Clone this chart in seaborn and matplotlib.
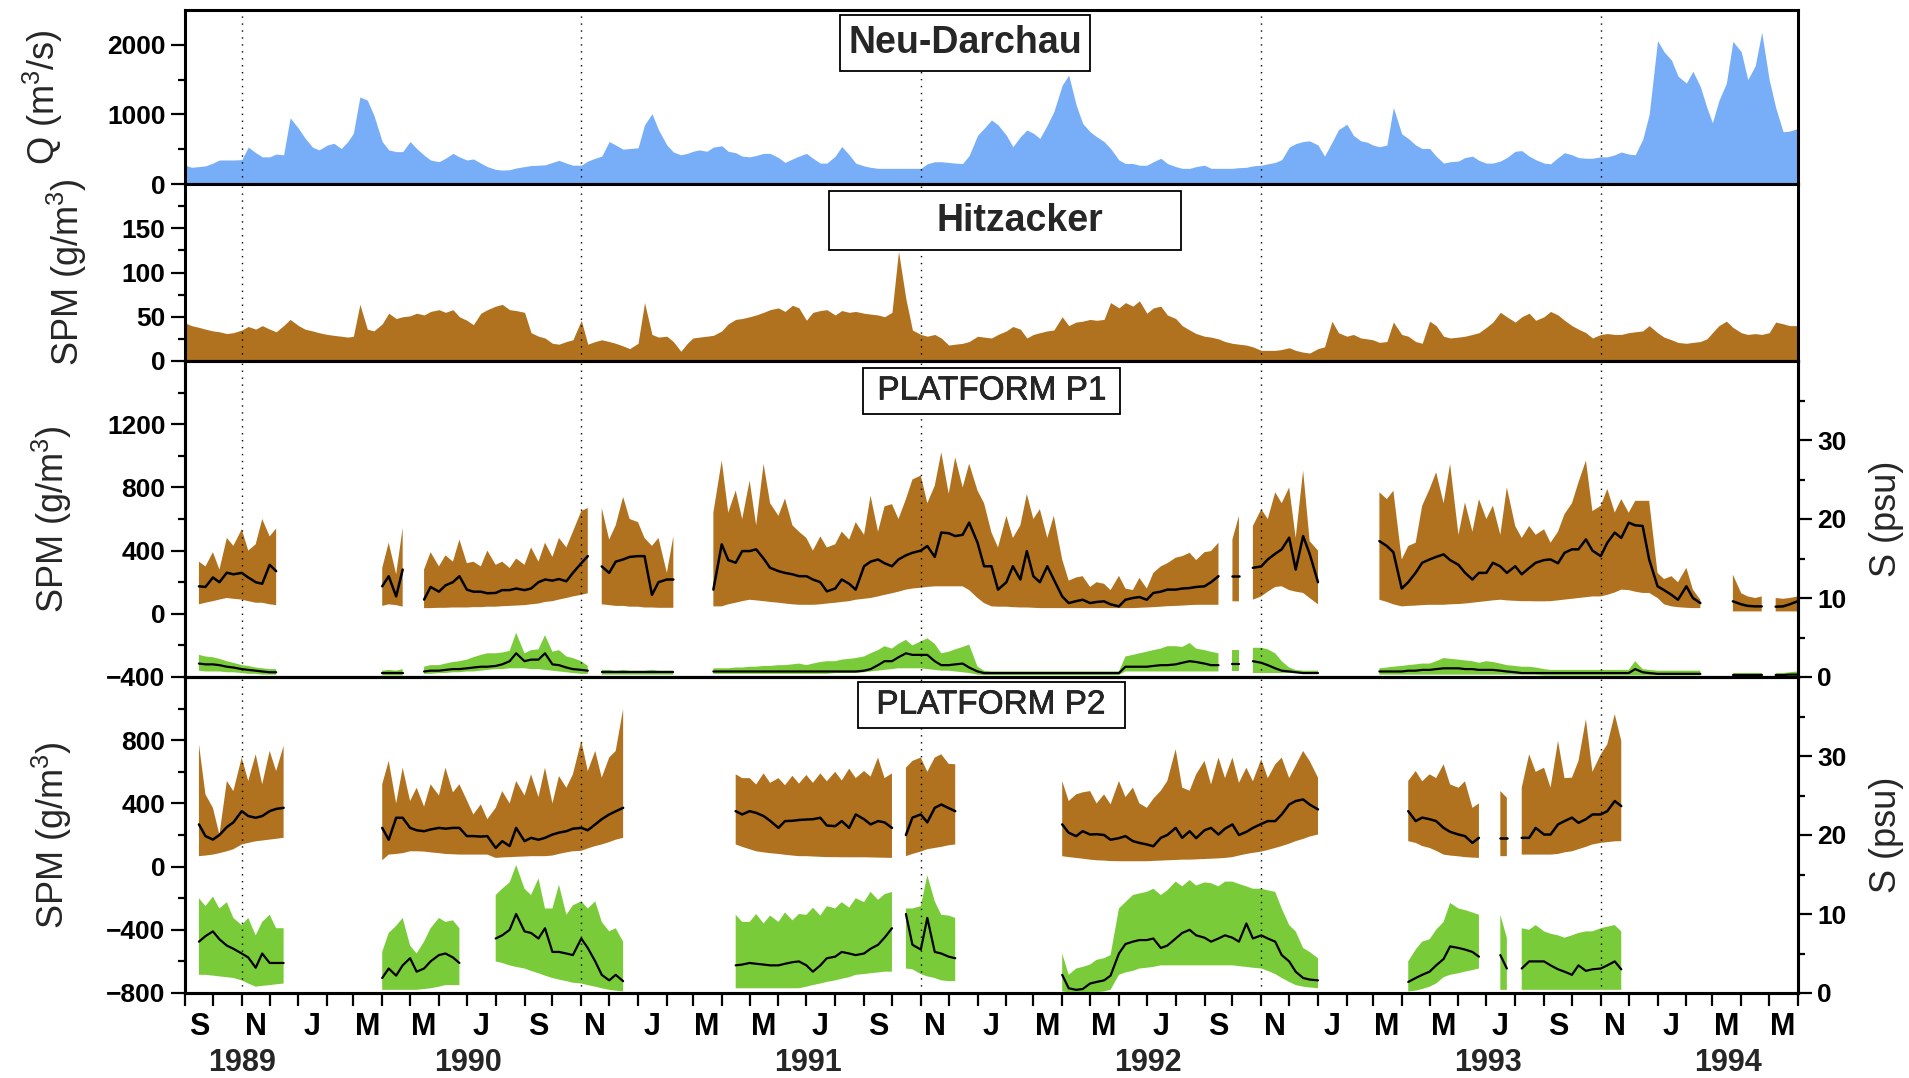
import numpy as np
import pandas as pd
import matplotlib
matplotlib.use("Agg")
import matplotlib.pyplot as plt
import matplotlib.dates as mdates
import matplotlib.patheffects as pe
from matplotlib.patches import Rectangle
from matplotlib.ticker import FixedLocator, NullFormatter, FuncFormatter
import seaborn as sns

N = np.nan

# Four samples per month (days 1, 8, 16, 23) from Sep 1989 to May 1994, plus 1 Jun 1994
SAMPLE_DAYS = [1, 8, 16, 23]
FIRST_MONTH = "1989-09"
LAST_MONTH = "1994-05"
FINAL_DAY = "1994-06-01"
YEARS = [1989, 1990, 1991, 1992, 1993, 1994]
HYDRO_YEAR_STARTS = ["1989-11-01", "1990-11-01", "1991-11-01", "1992-11-01", "1993-11-01"]

TITLES = ["Neu-Darchau", "Hitzacker", "PLATFORM P1", "PLATFORM P2"]
YLABELS = ["Q (m$^3$/s)", "SPM (g/m$^3$)", "SPM (g/m$^3$)", "SPM (g/m$^3$)"]
SAL_LABEL = "S (psu)"

# River discharge at Neu-Darchau (m3/s)
Q_NEU_DARCHAU = [
    [270, 240, 250, 260], [300, 345, 345, 345], [350, 530, 450, 390],
    [390, 430, 420, 950], [800, 660, 530, 490], [560, 585, 510, 610],
    [730, 1250, 1205, 990], [610, 490, 465, 465], [610, 510, 415, 345],
    [320, 370, 440, 390], [345, 360, 300, 250], [210, 200, 205, 230],
    [250, 265, 270, 275], [310, 340, 300, 270], [270, 330, 370, 400],
    [610, 560, 500, 510], [520, 850, 1010, 780], [560, 460, 420, 440],
    [470, 490, 470, 530], [550, 470, 450, 400], [390, 410, 440, 440],
    [380, 310, 360, 400], [440, 370, 300, 300], [400, 540, 420, 300],
    [260, 240, 225, 225], [225, 225, 225, 225], [225, 290, 320, 320],
    [310, 300, 295, 410], [700, 800, 920, 850], [700, 535, 680, 775],
    [730, 655, 850, 1040], [1420, 1565, 1135, 870], [750, 680, 610, 510],
    [345, 295, 295, 270], [270, 320, 370, 295], [250, 225, 225, 250],
    [270, 225, 225, 225], [225, 235, 240, 260], [270, 290, 310, 350],
    [530, 580, 610, 620], [560, 400, 600, 780], [860, 700, 620, 600],
    [560, 535, 560, 1100], [720, 655, 560, 510], [510, 400, 300, 320],
    [330, 380, 400, 340], [300, 300, 330, 380], [470, 480, 400, 350],
    [300, 290, 380, 450], [420, 380, 370, 370], [390, 390, 420, 460],
    [430, 420, 640, 1000], [2060, 1900, 1780, 1550], [1450, 1620, 1400, 1100],
    [880, 1200, 1450, 2050], [1900, 1500, 1700, 2180], [1500, 1100, 750, 760],
    [800],
]

# Suspended matter at Hitzacker (g/m3)
SPM_HITZACKER = [
    [43, 40, 38, 36], [34, 33, 31, 32], [35, 39, 36, 40],
    [36, 33, 40, 47], [40, 36, 34, 32], [30, 29, 28, 27],
    [28, 64, 36, 34], [42, 54, 48, 50], [51, 54, 52, 56],
    [58, 55, 58, 50], [46, 41, 54, 58], [62, 64, 58, 57],
    [55, 32, 28, 26], [20, 19, 22, 24], [46, 19, 22, 24],
    [22, 20, 17, 14], [20, 66, 30, 27], [28, 22, 11, 20],
    [26, 27, 28, 29], [34, 42, 47, 48], [50, 52, 55, 58],
    [60, 56, 63, 60], [46, 55, 57, 58], [52, 57, 55, 56],
    [54, 53, 52, 50], [55, 124, 70, 35], [30, 28, 30, 26],
    [18, 19, 20, 22], [28, 27, 26, 30], [34, 39, 36, 26],
    [30, 32, 34, 35], [50, 40, 44, 45], [47, 46, 47, 66],
    [60, 66, 62, 68], [54, 60, 62, 52], [48, 40, 35, 31],
    [28, 27, 25, 22], [20, 19, 18, 16], [12, 12, 12, 13],
    [15, 12, 10, 9], [14, 16, 45, 32], [28, 30, 26, 25],
    [24, 21, 22, 44], [30, 28, 22, 20], [45, 40, 28, 26],
    [27, 28, 30, 32], [38, 44, 55, 50], [44, 50, 54, 46],
    [50, 56, 52, 46], [40, 36, 32, 26], [30, 31, 30, 30],
    [32, 33, 34, 40], [32, 27, 24, 21], [20, 21, 22, 25],
    [32, 40, 45, 38], [32, 30, 31, 30], [32, 44, 42, 40],
    [40],
]

# Platform P1: SPM tidal max / min / mean (g/m3)
P1_SPM_MAX = [
    [N, N, 330, 300], [390, 280, 480, 430], [535, 400, 440, 600],
    [490, 540, N, N], [N, N, N, N], [N, N, N, N],
    [N, N, N, N], [290, 450, 250, 545], [N, N, 280, 390],
    [300, 370, 330, 470], [320, 330, 300, 400], [310, 330, 290, 350],
    [310, 420, 330, 450], [360, 480, 420, 520], [650, 670, N, 670],
    [470, 560, 740, 600], [580, 480, 430, 480], [260, 490, N, N],
    [N, N, N, 640], [970, 640, 780, 600], [843, 560, 949, 700],
    [620, 730, 560, 520], [480, 400, 490, 420], [440, 520, 470, 580],
    [500, 747, 520, 680], [694, 600, 726, 850], [875, 700, 811, 1023],
    [760, 990, 800, 950], [780, 700, 514, 420], [620, 480, 560, 758],
    [600, 662, 480, 620], [344, 210, 230, 238], [170, 200, 190, 150],
    [240, 160, 150, 227], [160, 259, 300, 320], [355, 365, 386, 340],
    [390, 397, 450, N], [471, 620, N, 556], [662, 600, 769, 700],
    [800, 480, 907, 460], [400, N, N, N], [N, N, N, N],
    [N, 769, 726, 779], [344, 429, 450, 684], [790, 896, 700, 949],
    [500, 705, 520, 726], [600, 684, 500, 800], [556, 480, 556, 500],
    [535, 450, 520, 631], [700, 832, 970, 650], [684, 790, 641, 726],
    [640, 715, 715, 715], [259, 220, 238, 200], [291, 153, 89, N],
    [N, N, N, 248], [130, 110, 100, 110], [N, 100, 95, 100],
    [110],
]
P1_SPM_MIN = [
    [N, N, 60, 70], [80, 90, 100, 95], [90, 80, 70, 70],
    [60, 55, N, N], [N, N, N, N], [N, N, N, N],
    [N, N, N, N], [50, 60, 55, 45], [N, N, 36, 36],
    [38, 38, 40, 40], [40, 42, 42, 45], [45, 48, 50, 52],
    [55, 60, 65, 75], [80, 90, 100, 110], [120, 130, N, 60],
    [55, 50, 50, 45], [45, 40, 40, 38], [38, 38, N, N],
    [N, N, N, 47], [47, 60, 70, 80], [89, 85, 80, 75],
    [70, 65, 60, 57], [57, 57, 60, 65], [70, 75, 80, 89],
    [95, 100, 110, 120], [130, 140, 153, 160], [165, 170, 174, 174],
    [174, 174, 174, 150], [100, 68, 47, 45], [45, 42, 40, 40],
    [38, 36, 36, 36], [36, 36, 36, 36], [36, 36, 36, 36],
    [36, 36, 36, 38], [40, 42, 45, 48], [50, 52, 55, 57],
    [57, 57, 57, N], [79, 79, N, 89], [110, 140, 170, 174],
    [150, 140, 132, 100], [60, N, N, N], [N, N, N, N],
    [N, 89, 75, 60], [47, 50, 52, 55], [57, 57, 57, 60],
    [62, 65, 70, 75], [80, 85, 89, 85], [82, 80, 80, 79],
    [79, 80, 85, 90], [95, 100, 105, 110], [110, 120, 135, 153],
    [150, 140, 132, 132], [100, 60, 47, 42], [38, 36, 36, N],
    [N, N, N, 15], [15, 15, 15, 15], [N, 15, 15, 15],
    [15],
]
P1_SPM_MEAN = [
    [N, N, 174, 170], [230, 200, 260, 250], [259, 230, 200, 190],
    [310, 270, N, N], [N, N, N, N], [N, N, N, N],
    [N, N, N, N], [174, 238, 110, 280], [N, N, 90, 170],
    [140, 180, 200, 238], [153, 140, 140, 130], [132, 150, 150, 160],
    [150, 160, 200, 217], [210, 220, 206, 259], [320, 365, N, 300],
    [259, 330, 344, 360], [365, 365, 120, 200], [217, 217, N, N],
    [N, N, N, 153], [440, 340, 323, 397], [397, 408, 350, 291],
    [270, 259, 250, 238], [238, 217, 200, 142], [160, 217, 190, 153],
    [301, 330, 344, 320], [301, 344, 370, 386], [400, 429, 360, 514],
    [510, 492, 500, 577], [450, 301, 301, 153], [200, 301, 217, 397],
    [238, 200, 301, 217], [110, 68, 80, 89], [68, 75, 79, 60],
    [47, 89, 100, 106], [89, 132, 140, 153], [153, 160, 163, 170],
    [174, 200, 238, N], [238, 238, N, 291], [300, 344, 380, 408],
    [482, 280, 492, 380], [200, N, N, N], [N, N, N, N],
    [N, 460, 429, 390], [160, 200, 260, 323], [344, 360, 376, 340],
    [310, 260, 217, 259], [259, 323, 300, 259], [301, 250, 290, 323],
    [340, 344, 320, 386], [408, 408, 471, 400], [365, 450, 514, 480],
    [577, 560, 556, 344], [174, 150, 120, 89], [174, 100, 68, N],
    [N, N, N, 79], [60, 50, 47, 47], [N, 45, 47, 60],
    [80],
]

# Platform P1: salinity tidal max / min / mean (psu)
P1_SAL_MAX = [
    [N, N, 2.8, 2.6], [2.5, 2.3, 2.0, 1.8], [1.5, 1.4, 1.2, 1.1],
    [1.0, 1.0, N, N], [N, N, N, N], [N, N, N, N],
    [N, N, N, N], [0.8, 0.9, 0.8, 1.0], [N, N, 1.3, 1.5],
    [1.5, 1.7, 1.9, 2.0], [2.2, 2.5, 2.8, 3.0], [3.0, 3.1, 3.3, 5.6],
    [3.0, 3.4, 3.5, 5.3], [3.2, 3.4, 2.6, 2.4], [2.0, 1.4, N, 0.9],
    [0.9, 0.8, 0.9, 0.8], [0.8, 0.8, 0.9, 0.8], [0.8, 0.8, N, N],
    [N, N, N, 1.1], [1.1, 1.1, 1.2, 1.2], [1.3, 1.3, 1.4, 1.4],
    [1.5, 1.5, 1.6, 1.7], [1.5, 1.7, 1.9, 2.0], [2.0, 2.2, 2.3, 2.4],
    [2.6, 3.0, 3.4, 3.9], [3.6, 4.2, 4.7, 4.0], [4.5, 4.9, 4.2, 3.0],
    [3.2, 3.5, 3.8, 4.1], [1.3, 0.8, 0.7, 0.7], [0.7, 0.7, 0.7, 0.7],
    [0.7, 0.7, 0.7, 0.7], [0.7, 0.7, 0.7, 0.7], [0.7, 0.7, 0.7, 0.7],
    [0.7, 2.6, 2.8, 3.0], [3.2, 3.4, 3.6, 3.9], [3.9, 3.8, 4.3, 3.6],
    [3.4, 3.2, 3.0, N], [3.4, 3.4, N, 3.7], [3.7, 3.5, 3.0, 2.0],
    [1.2, 0.9, 0.8, 0.8], [0.8, N, N, N], [N, N, N, N],
    [N, 1.1, 1.2, 1.3], [1.4, 1.5, 1.6, 1.7], [1.7, 2.0, 2.4, 2.3],
    [2.2, 2.1, 2.0, 1.8], [2.0, 1.9, 1.7, 1.5], [1.4, 1.3, 1.3, 1.2],
    [1.0, 0.9, 0.9, 0.9], [0.9, 0.9, 0.9, 0.9], [0.9, 0.9, 0.9, 0.9],
    [0.9, 2.0, 1.0, 0.9], [0.8, 0.8, 0.8, 0.8], [0.8, 0.8, 0.8, N],
    [N, N, N, 0.5], [0.5, 0.5, 0.5, 0.5], [N, 0.5, 0.5, 0.6],
    [0.7],
]
P1_SAL_MIN = [
    [N, N, 0.8, 0.7], [0.7, 0.7, 0.6, 0.6], [0.5, 0.4, 0.4, 0.3],
    [0.3, 0.3, N, N], [N, N, N, N], [N, N, N, N],
    [N, N, N, N], [0.2, 0.2, 0.2, 0.2], [N, N, 0.4, 0.4],
    [0.5, 0.5, 0.6, 0.6], [0.7, 0.7, 0.8, 0.9], [1.0, 1.0, 1.1, 1.1],
    [1.1, 1.0, 1.0, 0.9], [0.8, 0.7, 0.6, 0.5], [0.4, 0.4, N, 0.3],
    [0.3, 0.3, 0.3, 0.3], [0.3, 0.3, 0.3, 0.3], [0.3, 0.3, N, N],
    [N, N, N, 0.4], [0.4, 0.4, 0.4, 0.4], [0.4, 0.4, 0.4, 0.4],
    [0.4, 0.4, 0.4, 0.4], [0.4, 0.4, 0.4, 0.4], [0.5, 0.5, 0.5, 0.5],
    [0.6, 0.7, 0.8, 0.9], [1.0, 1.1, 1.1, 1.1], [1.1, 1.0, 0.9, 0.8],
    [0.8, 0.7, 0.6, 0.5], [0.3, 0.25, 0.25, 0.25], [0.25, 0.25, 0.25, 0.25],
    [0.25, 0.25, 0.25, 0.25], [0.25, 0.25, 0.25, 0.25], [0.25, 0.25, 0.25, 0.25],
    [0.25, 0.7, 0.7, 0.7], [0.7, 0.7, 0.7, 0.7], [0.7, 0.7, 0.7, 0.7],
    [0.7, 0.7, 0.7, N], [0.7, 0.7, N, 0.5], [0.5, 0.5, 0.5, 0.5],
    [0.5, 0.5, 0.5, 0.5], [0.5, N, N, N], [N, N, N, N],
    [N, 0.3, 0.3, 0.3], [0.3, 0.3, 0.3, 0.3], [0.3, 0.3, 0.3, 0.3],
    [0.3, 0.3, 0.3, 0.3], [0.3, 0.3, 0.3, 0.3], [0.3, 0.3, 0.3, 0.3],
    [0.2, 0.2, 0.2, 0.2], [0.2, 0.2, 0.2, 0.2], [0.2, 0.2, 0.2, 0.2],
    [0.2, 0.2, 0.2, 0.2], [0.2, 0.2, 0.2, 0.2], [0.2, 0.2, 0.2, N],
    [N, N, N, 0.1], [0.1, 0.1, 0.1, 0.1], [N, 0.1, 0.1, 0.1],
    [0.1],
]
P1_SAL_MEAN = [
    [N, N, 1.7, 1.6], [1.6, 1.5, 1.3, 1.2], [1.0, 0.9, 0.8, 0.7],
    [0.6, 0.6, N, N], [N, N, N, N], [N, N, N, N],
    [N, N, N, N], [0.5, 0.5, 0.5, 0.5], [N, N, 0.7, 0.8],
    [0.8, 0.9, 1.0, 1.0], [1.1, 1.2, 1.3, 1.3], [1.4, 1.6, 2.0, 3.0],
    [2.0, 2.2, 2.2, 3.0], [1.6, 1.5, 1.2, 1.0], [0.9, 0.8, N, 0.6],
    [0.6, 0.6, 0.6, 0.6], [0.6, 0.6, 0.6, 0.6], [0.6, 0.6, N, N],
    [N, N, N, 0.7], [0.7, 0.7, 0.7, 0.7], [0.7, 0.7, 0.7, 0.7],
    [0.7, 0.7, 0.7, 0.7], [0.7, 0.7, 0.7, 0.7], [0.7, 0.7, 0.7, 0.7],
    [0.8, 1.0, 1.5, 2.0], [2.0, 2.5, 3.0, 2.8], [2.8, 2.8, 2.0, 1.5],
    [1.5, 1.6, 1.7, 1.2], [0.7, 0.5, 0.5, 0.5], [0.5, 0.5, 0.5, 0.5],
    [0.5, 0.5, 0.5, 0.5], [0.5, 0.5, 0.5, 0.5], [0.5, 0.5, 0.5, 0.5],
    [0.5, 1.3, 1.3, 1.3], [1.3, 1.4, 1.5, 1.5], [1.6, 1.8, 2.0, 1.9],
    [1.7, 1.5, 1.5, N], [1.7, 1.7, N, 2.0], [1.8, 1.5, 1.1, 0.8],
    [0.7, 0.6, 0.5, 0.5], [0.5, N, N, N], [N, N, N, N],
    [N, 0.7, 0.7, 0.7], [0.7, 0.8, 0.8, 0.9], [0.9, 1.0, 1.1, 1.1],
    [1.1, 1.0, 1.0, 0.9], [0.9, 0.9, 0.8, 0.7], [0.6, 0.5, 0.5, 0.5],
    [0.5, 0.5, 0.5, 0.5], [0.5, 0.5, 0.5, 0.5], [0.5, 0.5, 0.5, 0.5],
    [0.5, 1.0, 0.6, 0.5], [0.4, 0.4, 0.4, 0.4], [0.4, 0.4, 0.4, N],
    [N, N, N, 0.25], [0.25, 0.25, 0.25, 0.25], [N, 0.25, 0.25, 0.3],
    [0.3],
]

# Platform P2: SPM tidal max / min / mean (g/m3)
P2_SPM_MAX = [
    [N, N, 774, 457], [372, 203, 542, 478], [690, 542, 711, 521],
    [732, 605, 764, N], [N, N, N, N], [N, N, N, N],
    [N, N, N, N], [521, 669, 400, 626], [415, 499, 380, 521],
    [450, 626, 470, 521], [420, 330, 394, 300], [372, 478, 400, 542],
    [450, 584, 440, 626], [400, 573, 499, 584], [796, 605, 732, 563],
    [690, 732, 997, N], [N, N, N, N], [N, N, N, N],
    [N, N, N, N], [N, N, 584, 560], [560, 520, 590, 530],
    [560, 515, 575, 525], [580, 530, 590, 540], [600, 545, 620, 560],
    [605, 570, 690, 560], [590, N, 626, 669], [690, 600, 690, 711],
    [650, 648, N, N], [N, N, N, N], [N, N, N, N],
    [N, N, N, N], [542, 415, 457, 470], [478, 400, 457, 394],
    [542, 440, 500, 400], [372, 430, 480, 542], [743, 500, 480, 584],
    [669, 520, 690, 560], [690, 530, 626, 540], [680, 560, 647, 690],
    [560, 640, 732, 669], [563, N, N, N], [N, N, N, N],
    [N, N, N, N], [N, 542, 605, 540], [584, 560, 648, 520],
    [499, 540, 372, 400], [N, N, 478, 436], [N, 500, 711, 600],
    [626, 500, 796, 560], [563, 669, 933, 600], [711, 774, 965, 796],
    [N, N, N, N], [N, N, N, N], [N, N, N, N],
    [N, N, N, N], [N, N, N, N], [N, N, N, N],
    [N],
]
P2_SPM_MIN = [
    [N, N, 66, 70], [76, 85, 97, 110], [140, 150, 160, 165],
    [171, 176, 182, N], [N, N, N, N], [N, N, N, N],
    [N, N, N, N], [40, 76, 80, 85], [97, 97, 95, 90],
    [85, 80, 78, 76], [76, 76, 76, 76], [55, 58, 60, 62],
    [64, 66, 66, 66], [70, 80, 90, 97], [100, 115, 130, 140],
    [155, 170, 182, N], [N, N, N, N], [N, N, N, N],
    [N, N, N, N], [N, N, 140, 125], [110, 97, 90, 85],
    [80, 75, 70, 66], [66, 64, 62, 60], [60, 59, 59, 59],
    [59, 58, 57, 56], [55, N, 66, 80], [95, 110, 118, 125],
    [135, 140, N, N], [N, N, N, N], [N, N, N, N],
    [N, N, N, N], [66, 60, 55, 50], [44, 40, 38, 35],
    [34, 34, 34, 34], [34, 36, 38, 40], [42, 44, 44, 46],
    [48, 50, 52, 55], [60, 70, 80, 87], [95, 105, 118, 130],
    [145, 161, 175, 190], [203, N, N, N], [N, N, N, N],
    [N, N, N, N], [N, 161, 150, 130], [118, 100, 76, 70],
    [65, 60, 57, 55], [N, N, 66, 66], [N, 76, 76, 76],
    [76, 76, 80, 90], [97, 110, 125, 140], [150, 155, 160, 161],
    [N, N, N, N], [N, N, N, N], [N, N, N, N],
    [N, N, N, N], [N, N, N, N], [N, N, N, N],
    [N],
]
P2_SPM_MEAN = [
    [N, N, 267, 193], [171, 200, 250, 280], [351, 320, 309, 320],
    [351, 365, 372, N], [N, N, N, N], [N, N, N, N],
    [N, N, N, N], [245, 170, 309, 309], [245, 230, 224, 235],
    [245, 240, 245, 245], [193, 193, 190, 193], [118, 161, 130, 245],
    [161, 182, 170, 182], [203, 215, 224, 240], [245, 230, 267, 300],
    [330, 350, 372, N], [N, N, N, N], [N, N, N, N],
    [N, N, N, N], [N, N, 351, 330], [351, 340, 320, 290],
    [245, 288, 290, 295], [298, 300, 309, 260], [256, 288, 245, 330],
    [300, 267, 288, 280], [245, N, 200, 310], [330, 280, 372, 393],
    [370, 351, N, N], [N, N, N, N], [N, N, N, N],
    [N, N, N, N], [267, 214, 193, 224], [203, 205, 200, 170],
    [180, 193, 161, 150], [140, 129, 182, 200], [245, 182, 224, 180],
    [230, 245, 203, 240], [267, 200, 220, 245], [270, 288, 288, 330],
    [393, 415, 425, 393], [362, N, N, N], [N, N, N, N],
    [N, N, N, N], [N, 351, 288, 310], [300, 288, 245, 220],
    [203, 193, 150, 182], [N, N, 182, 182], [N, 182, 182, 245],
    [203, 203, 267, 288], [310, 277, 300, 330], [330, 351, 415, 383],
    [N, N, N, N], [N, N, N, N], [N, N, N, N],
    [N, N, N, N], [N, N, N, N], [N, N, N, N],
    [N],
]

# Platform P2: salinity tidal max / min / mean (psu)
P2_SAL_MAX = [
    [N, N, 12.0, 11.0], [12.2, 10.7, 11.5, 9.5], [8.6, 9.5, 7.3, 9.0],
    [9.9, 8.2, 8.2, N], [N, N, N, N], [N, N, N, N],
    [N, N, N, N], [5.2, 7.6, 8.5, 9.5], [6.0, 5.0, 6.5, 8.2],
    [9.5, 9.0, 9.2, 8.2], [N, N, N, N], [12.4, 13.2, 14.0, 16.2],
    [13.2, 12.4, 14.5, 10.7], [10.7, 13.7, 9.9, 11.1], [11.6, 10.7, 11.6, 9.0],
    [7.8, 8.2, 6.5, N], [N, N, N, N], [N, N, N, N],
    [N, N, N, N], [N, N, 9.9, 9.0], [9.0, 10.0, 8.8, 9.8],
    [9.0, 10.2, 9.2, 10.0], [9.9, 10.8, 9.8, 11.0], [10.7, 11.5, 10.8, 12.0],
    [11.5, 12.8, 11.8, 12.5], [12.8, N, 10.7, 10.7], [11.0, 14.9, 11.6, 9.9],
    [9.8, 9.5, N, N], [N, N, N, N], [N, N, N, N],
    [N, N, N, N], [5.0, 2.3, 3.1, 3.3], [3.6, 4.2, 4.4, 4.8],
    [10.7, 11.5, 12.4, 12.6], [12.8, 13.2, 12.4, 13.0], [14.1, 13.5, 14.3, 13.6],
    [14.0, 13.9, 13.5, 14.1], [14.1, 13.8, 13.5, 13.2], [13.2, 13.0, 12.8, 10.7],
    [8.6, 7.8, 5.7, 5.2], [4.4, N, N, N], [N, N, N, N],
    [N, N, N, N], [N, 4.0, 5.5, 6.5], [6.8, 8.0, 9.0, 11.4],
    [10.7, 10.5, 10.2, 9.9], [N, N, 9.9, 7.0], [N, 8.2, 8.0, 8.6],
    [7.8, 7.5, 7.3, 7.0], [7.3, 7.6, 7.8, 7.8], [8.2, 8.4, 8.6, 7.8],
    [N, N, N, N], [N, N, N, N], [N, N, N, N],
    [N, N, N, N], [N, N, N, N], [N, N, N, N],
    [N],
]
P2_SAL_MIN = [
    [N, N, 2.3, 2.3], [2.2, 2.1, 2.0, 1.9], [1.6, 1.2, 0.8, 0.9],
    [1.0, 1.1, 1.2, N], [N, N, N, N], [N, N, N, N],
    [N, N, N, N], [0.4, 0.4, 0.4, 0.4], [0.4, 0.4, 0.5, 0.6],
    [0.8, 1.0, 1.0, 1.0], [N, N, N, N], [4.0, 3.8, 3.5, 3.3],
    [3.1, 2.8, 2.5, 2.2], [1.9, 1.7, 1.5, 1.3], [1.2, 1.0, 0.8, 0.6],
    [0.4, 0.3, 0.2, N], [N, N, N, N], [N, N, N, N],
    [N, N, N, N], [N, N, 0.6, 0.6], [0.6, 0.6, 0.6, 0.6],
    [0.6, 0.6, 0.6, 0.6], [0.8, 1.0, 1.2, 1.4], [1.6, 1.8, 2.0, 2.3],
    [2.4, 2.5, 2.6, 2.7], [2.7, N, 3.1, 3.0], [2.4, 2.1, 1.9, 1.6],
    [1.5, 1.5, N, N], [N, N, N, N], [N, N, N, N],
    [N, N, N, N], [0.2, 0.1, 0.0, 0.0], [0.0, 0.1, 0.2, 0.4],
    [2.3, 2.6, 2.8, 3.1], [3.2, 3.3, 3.5, 3.5], [3.5, 3.5, 3.5, 3.5],
    [3.5, 3.5, 3.5, 3.5], [3.5, 3.4, 3.3, 3.2], [3.1, 2.8, 2.4, 1.9],
    [1.4, 1.0, 0.8, 0.7], [0.6, N, N, N], [N, N, N, N],
    [N, N, N, N], [N, 0.2, 0.3, 0.5], [0.8, 1.2, 2.0, 2.3],
    [2.5, 2.7, 2.9, 3.1], [N, N, 0.4, 0.4], [N, 0.4, 0.4, 0.4],
    [0.4, 0.4, 0.4, 0.4], [0.4, 0.4, 0.4, 0.4], [0.4, 0.4, 0.4, 0.4],
    [N, N, N, N], [N, N, N, N], [N, N, N, N],
    [N, N, N, N], [N, N, N, N], [N, N, N, N],
    [N],
]
P2_SAL_MEAN = [
    [N, N, 6.5, 7.2], [7.8, 6.8, 6.0, 5.6], [5.0, 4.5, 3.2, 5.0],
    [3.8, 3.8, 3.8, N], [N, N, N, N], [N, N, N, N],
    [N, N, N, N], [1.9, 3.1, 2.2, 3.5], [4.4, 2.7, 3.1, 4.0],
    [4.8, 5.0, 4.5, 3.8], [N, N, N, N], [6.9, 7.3, 8.0, 10.0],
    [7.8, 7.6, 6.9, 8.2], [5.2, 5.2, 5.0, 4.8], [6.9, 5.7, 4.0, 2.3],
    [1.6, 2.3, 1.5, N], [N, N, N, N], [N, N, N, N],
    [N, N, N, N], [N, N, 3.5, 3.6], [3.8, 3.7, 3.6, 3.5],
    [3.5, 3.7, 3.9, 4.0], [3.5, 2.7, 3.5, 4.4], [4.6, 5.2, 5.0, 4.8],
    [5.0, 5.6, 6.1, 7.0], [8.2, N, 10.0, 6.1], [5.5, 9.5, 5.2, 5.0],
    [4.6, 4.4, N, N], [N, N, N, N], [N, N, N, N],
    [N, N, N, N], [2.3, 0.6, 0.4, 0.5], [1.2, 1.4, 1.6, 2.2],
    [5.0, 6.2, 6.5, 6.7], [6.7, 6.9, 5.7, 6.0], [6.9, 7.6, 8.0, 7.3],
    [7.0, 6.5, 6.9, 7.3], [7.0, 6.5, 8.8, 6.9], [7.3, 6.9, 6.5, 4.8],
    [4.0, 2.7, 1.9, 1.7], [1.6, N, N, N], [N, N, N, N],
    [N, N, N, N], [N, 1.4, 1.9, 2.3], [2.7, 3.5, 4.3, 5.9],
    [5.7, 5.5, 5.2, 4.6], [N, N, 4.8, 3.1], [N, 3.1, 4.0, 4.0],
    [4.0, 3.5, 3.0, 2.7], [2.3, 3.5, 2.8, 3.0], [3.1, 3.5, 4.0, 3.0],
    [N, N, N, N], [N, N, N, N], [N, N, N, N],
    [N, N, N, N], [N, N, N, N], [N, N, N, N],
    [N],
]

# ---------------------------------------------------------------- styling
BLUE = "#78AEF7"
BROWN = "#B0721F"
GREEN = "#7ACB3A"
YTICK_FS = 19
XTICK_FS = 22
LABEL_FS = 26
TITLE_FS = 27
PLATFORM_FS = 24
SPINE_W = 2.2

sns.set_theme(style="ticks")
plt.rcParams["font.family"] = ["Liberation Sans", "DejaVu Sans"]
plt.rcParams["mathtext.fontset"] = "custom"
plt.rcParams["mathtext.rm"] = "Liberation Sans"
plt.rcParams["mathtext.it"] = "Liberation Sans:italic"
plt.rcParams["mathtext.bf"] = "Liberation Sans:bold"
plt.rcParams["axes.edgecolor"] = "black"
plt.rcParams["xtick.color"] = "black"
plt.rcParams["ytick.color"] = "black"

months = pd.period_range(FIRST_MONTH, LAST_MONTH, freq="M")
dates = pd.DatetimeIndex(
    [pd.Timestamp(p.year, p.month, d) for p in months for d in SAMPLE_DAYS]
    + [pd.Timestamp(FINAL_DAY)]
)
x_start = pd.Timestamp(months[0].year, months[0].month, 1)
x_end = pd.Timestamp(FINAL_DAY)


def flat(rows):
    vals = np.array([v for row in rows for v in row], dtype=float)
    if len(vals) != len(dates):
        raise ValueError(f"{len(vals)} values for {len(dates)} dates")
    return vals


def mean_line(ax, y, lw=1.8):
    valid = ~np.isnan(y)
    seg = np.cumsum(~valid)
    df = pd.DataFrame({"date": dates[valid], "value": y[valid], "seg": seg[valid]})
    sns.lineplot(data=df, x="date", y="value", units="seg", estimator=None,
                 color="black", lw=lw, ax=ax, legend=False, zorder=4)
    ax.set_xlabel("")
    ax.set_ylabel("")


def style_y(ax, lim, major, minor):
    ax.set_ylim(*lim)
    ax.yaxis.set_major_locator(FixedLocator(major))
    ax.yaxis.set_minor_locator(FixedLocator(minor))
    ax.tick_params(axis="y", which="major", direction="out", length=10,
                   width=1.6, labelsize=YTICK_FS, pad=4)
    ax.tick_params(axis="y", which="minor", direction="out", length=5, width=1.6)
    for lab in ax.get_yticklabels():
        lab.set_fontweight("bold")
    for sp in ax.spines.values():
        sp.set_linewidth(SPINE_W)
        sp.set_color("black")


def hydro_lines(ax):
    for d in HYDRO_YEAR_STARTS:
        ax.axvline(pd.Timestamp(d), color="black", lw=1.0, ls=(0, (1, 4)), zorder=6)


W, H = 1909, 1078
fig = plt.figure(figsize=(W / 100, H / 100), dpi=100)


def panel_rect(top, bottom):
    return [185 / W, 1 - bottom / H, (1798 - 185) / W, (bottom - top) / H]


ax1 = fig.add_axes(panel_rect(10, 184))
ax2 = fig.add_axes(panel_rect(184, 361), sharex=ax1)
ax3 = fig.add_axes(panel_rect(361, 677), sharex=ax1)
ax4 = fig.add_axes(panel_rect(677, 993), sharex=ax1)

# Discharge
q = flat(Q_NEU_DARCHAU)
ax1.fill_between(dates, 0, q, color=BLUE, lw=0)
style_y(ax1, (0, 2500), [0, 1000, 2000], [500, 1500])

# Hitzacker SPM
hz = flat(SPM_HITZACKER)
ax2.fill_between(dates, 0, hz, color=BROWN, lw=0)
style_y(ax2, (0, 200), [0, 50, 100, 150], [25, 75, 125, 175])

# Platforms: SPM envelope (left axis) and salinity envelope (right axis)
platforms = [
    (ax3, (-400, 1600), [-400, 0, 400, 800, 1200], [-200, 200, 600, 1000, 1400],
     P1_SPM_MAX, P1_SPM_MIN, P1_SPM_MEAN, P1_SAL_MAX, P1_SAL_MIN, P1_SAL_MEAN),
    (ax4, (-800, 1200), [-800, -400, 0, 400, 800], [-600, -200, 200, 600, 1000],
     P2_SPM_MAX, P2_SPM_MIN, P2_SPM_MEAN, P2_SAL_MAX, P2_SAL_MIN, P2_SAL_MEAN),
]
for ax, lim, major, minor, smax, smin, smean, sal_max, sal_min, sal_mean in platforms:
    ax.fill_between(dates, flat(smin), flat(smax), color=BROWN, lw=0)
    mean_line(ax, flat(smean))
    style_y(ax, lim, major, minor)
    tw = ax.twinx()
    tw.fill_between(dates, flat(sal_min), flat(sal_max), color=GREEN, lw=0)
    mean_line(tw, flat(sal_mean), lw=1.6)
    style_y(tw, (0, 40), [0, 10, 20, 30], [5, 15, 25, 35])
    hydro_lines(tw)

hydro_lines(ax1)
hydro_lines(ax2)

# Time axis
for ax in (ax1, ax2, ax3, ax4):
    ax.set_xlim(x_start, x_end)
ax4.xaxis.set_major_locator(mdates.MonthLocator())
ax4.xaxis.set_major_formatter(NullFormatter())
ax4.xaxis.set_minor_locator(mdates.MonthLocator(bymonth=[1, 3, 5, 7, 9, 11], bymonthday=16))
ax4.xaxis.set_minor_formatter(
    FuncFormatter(lambda v, pos: mdates.num2date(v).strftime("%b")[0]))
for ax in (ax1, ax2, ax3):
    ax.tick_params(axis="x", which="both", bottom=False, top=False,
                   labelbottom=False)
ax4.tick_params(axis="x", which="major", direction="out", length=9, width=1.6)
ax4.tick_params(axis="x", which="minor", length=0, pad=14, labelsize=XTICK_FS)
for lab in ax4.get_xticklabels(minor=True):
    lab.set_fontweight("bold")

for yr in YEARS:
    a = max(pd.Timestamp(yr, 1, 1), x_start)
    b = min(pd.Timestamp(yr + 1, 1, 1), x_end)
    mid = a + (b - a) / 2
    ax4.annotate(str(yr), xy=(mdates.date2num(mid), 0),
                 xycoords=("data", "axes fraction"), xytext=(0, -70),
                 textcoords="offset pixels", ha="center", va="center",
                 fontsize=XTICK_FS, fontweight="bold")

# Axis labels
for text, x_right, y_mid in zip(YLABELS, [65, 89, 74, 74], [97, 272, 519, 835]):
    fig.text(x_right / W, 1 - y_mid / H, text, rotation=90, ha="right",
             va="center", fontsize=LABEL_FS, fontweight="normal")
for y_mid in (519, 835):
    fig.text(1886 / W, 1 - y_mid / H, SAL_LABEL, rotation=90, ha="center",
             va="center", fontsize=LABEL_FS, fontweight="normal")

# Station / platform title boxes
boxes = [
    ((840, 15, 1090, 71), (965, 43), TITLE_FS, "bold", 0),
    ((829, 191, 1181, 250), (1020, 221), TITLE_FS, "bold", 0),
    ((863, 368, 1120, 414), (992, 391), PLATFORM_FS, "normal", 0.45),
    ((858, 682, 1125, 728), (991, 705), PLATFORM_FS, "normal", 0.45),
]
for title, ((x0, y0, x1, y1), (tx, ty), fs, fw, stroke) in zip(TITLES, boxes):
    fig.add_artist(Rectangle((x0 / W, 1 - y1 / H), (x1 - x0) / W, (y1 - y0) / H,
                             transform=fig.transFigure, facecolor="white",
                             edgecolor="black", lw=1.3, zorder=8))
    t = fig.text(tx / W, 1 - ty / H, title, ha="center", va="center",
                 fontsize=fs, fontweight=fw, zorder=9)
    if stroke:
        t.set_path_effects([pe.withStroke(linewidth=stroke, foreground="black")])

fig.savefig("out.png", dpi=100)
